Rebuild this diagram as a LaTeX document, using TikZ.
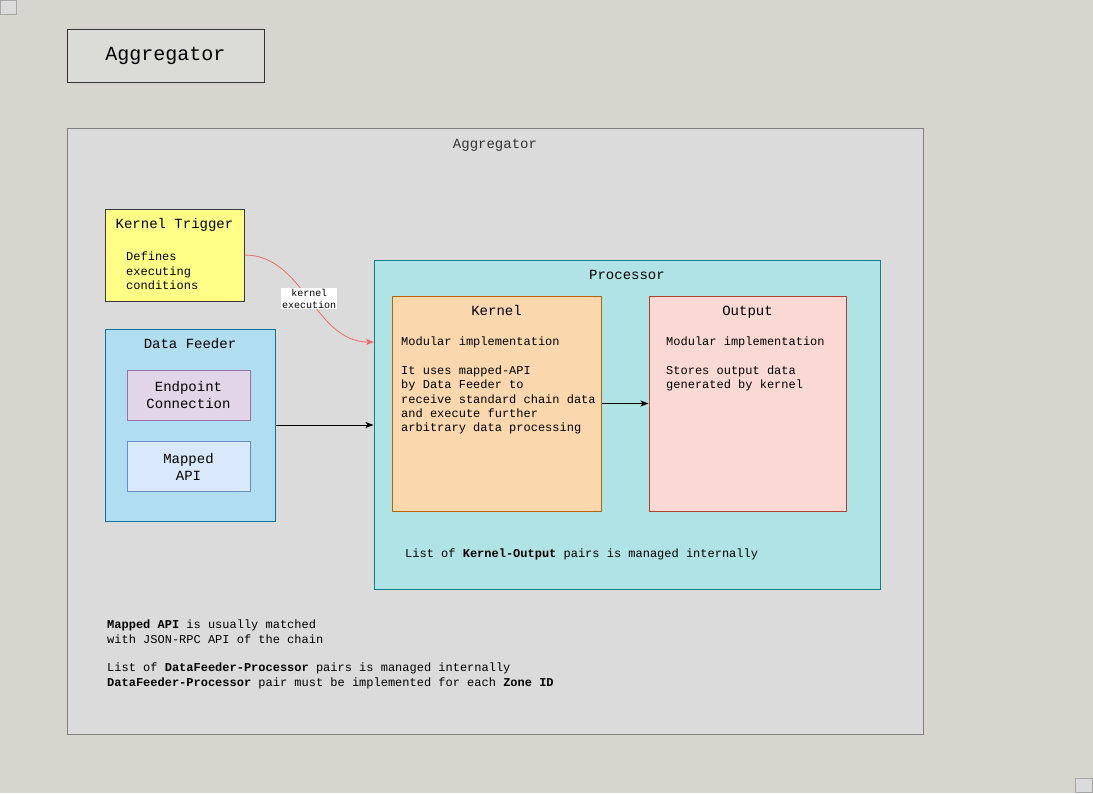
\documentclass[tikz,border=0pt]{standalone}
\usepackage{fontspec}
\setmonofont{Liberation Mono}
\usetikzlibrary{arrows.meta}

\definecolor{pagebg}{RGB}{214,214,207}
\definecolor{aggfill}{RGB}{219,219,219}
\definecolor{aggline}{RGB}{128,128,128}
\definecolor{trigfill}{HTML}{FFFF88}
\definecolor{trigline}{HTML}{36393D}
\definecolor{feedfill}{HTML}{B1DDF0}
\definecolor{feedline}{HTML}{10739E}
\definecolor{endfill}{HTML}{E1D5E7}
\definecolor{endline}{HTML}{9673A6}
\definecolor{mapfill}{HTML}{DAE8FC}
\definecolor{mapline}{HTML}{6C8EBF}
\definecolor{procfill}{HTML}{B0E3E6}
\definecolor{procline}{HTML}{0E8088}
\definecolor{kernfill}{HTML}{FAD7AC}
\definecolor{kernline}{HTML}{B46504}
\definecolor{outfill}{HTML}{FAD9D5}
\definecolor{outline}{HTML}{AE4132}
\definecolor{execline}{HTML}{EA6B66}

\begin{document}
\begin{tikzpicture}[x=1pt, y=-1pt,
  box/.style={draw, line width=1pt, inner sep=0pt, align=center,
    font=\ttfamily\fontsize{14}{17}\selectfont},
  head/.style={anchor=base, inner sep=0pt, font=\ttfamily\fontsize{14}{17}\selectfont},
  body/.style={anchor=north west, inner sep=0pt, align=left,
    font=\ttfamily\fontsize{12}{14.4}\selectfont},
  flow/.style={line width=1pt, -{Stealth[length=8pt, width=6pt, inset=2pt]}}]
\useasboundingbox[fill=pagebg] (0,0) rectangle (1093,793);

% corner markers
\draw (8,7) node[box, draw=aggline!70, fill=aggfill, minimum width=16, minimum height=14] (cornera) {} ;
\draw (1083.5,785) node[box, draw=aggline!70, fill=aggfill, minimum width=17, minimum height=14] (cornerb) {} ;

% title
\draw (165.5,55.5) node[box, draw=black!80, fill=pagebg!85!white, minimum width=197, minimum height=53,
  font=\ttfamily\fontsize{20}{24}\selectfont] (title) {Aggregator} ;

% aggregator frame
\draw (495,431) node[box, draw=aggline, fill=aggfill, minimum width=856, minimum height=606] (agg) {} ;
\draw (495,148) node[head, text=black!80] (aggt) {Aggregator} ;

% kernel trigger
\draw (174.5,255) node[box, draw=trigline, fill=trigfill, minimum width=139, minimum height=92] (kt) {} ;
\draw (174.5,228.5) node[head] (ktt) {Kernel Trigger} ;
\draw (126,252) node[body] (ktb) {Defines\\executing\\conditions} ;

% data feeder
\draw (190,425) node[box, draw=feedline, fill=feedfill, minimum width=170, minimum height=192] (df) {} ;
\draw (190,348.5) node[head] (dft) {Data Feeder} ;
\draw (188.5,395) node[box, draw=endline, fill=endfill, minimum width=123, minimum height=50] (ep) {Endpoint\\Connection} ;
\draw (188.5,466.5) node[box, draw=mapline, fill=mapfill, minimum width=123, minimum height=50] (mapi) {Mapped\\API} ;

% processor
\draw (627,424.5) node[box, draw=procline, fill=procfill, minimum width=506, minimum height=329] (proc) {} ;
\draw (627,279.5) node[head] (proct) {Processor} ;

\draw (496.5,403.5) node[box, draw=kernline, fill=kernfill, minimum width=209, minimum height=215] (kern) {} ;
\draw (496.5,315.5) node[head] (kernt) {Kernel} ;
\draw (401,336.5) node[body] (kernb) {Modular implementation\\[14.4pt]It uses mapped-API\\by Data Feeder to\\receive standard chain data\\and execute further\\arbitrary data processing} ;

\draw (747.5,403.5) node[box, draw=outline, fill=outfill, minimum width=197, minimum height=215] (outp) {} ;
\draw (747.5,315.5) node[head] (outpt) {Output} ;
\draw (666,336.5) node[body] (outpb) {Modular implementation\\[14.4pt]Stores output data\\generated by kernel} ;

\draw (405,557) node[body, anchor=base west] (procn) {List of \textbf{Kernel-Output} pairs is managed internally} ;

% notes
\draw (107,620) node[body] (notea) {\textbf{Mapped API} is usually matched\\with JSON-RPC API of the chain} ;
\draw (107,663) node[body] (noteb) {List of \textbf{DataFeeder-Processor} pairs is managed internally\\\textbf{DataFeeder-Processor} pair must be implemented for each \textbf{Zone ID}} ;

\coordinate (kexec) at (374,342) ;

\draw[flow]
     (df.east) to (df.east -| proc.west) ;
\draw[flow]
     (kern) to (outp) ;
\draw[line width=0.8pt, draw=execline, -{Stealth[length=8pt, width=6pt, inset=2pt, fill=execline]}]
     (kt.east) .. controls +(60,0) and +(-60,0) .. (kexec)
     node[midway, fill=white, inner sep=1pt, align=center, text=black,
       font=\ttfamily\fontsize{10}{12}\selectfont] (kexl) {kernel\\execution} ;
\end{tikzpicture}
\end{document}
